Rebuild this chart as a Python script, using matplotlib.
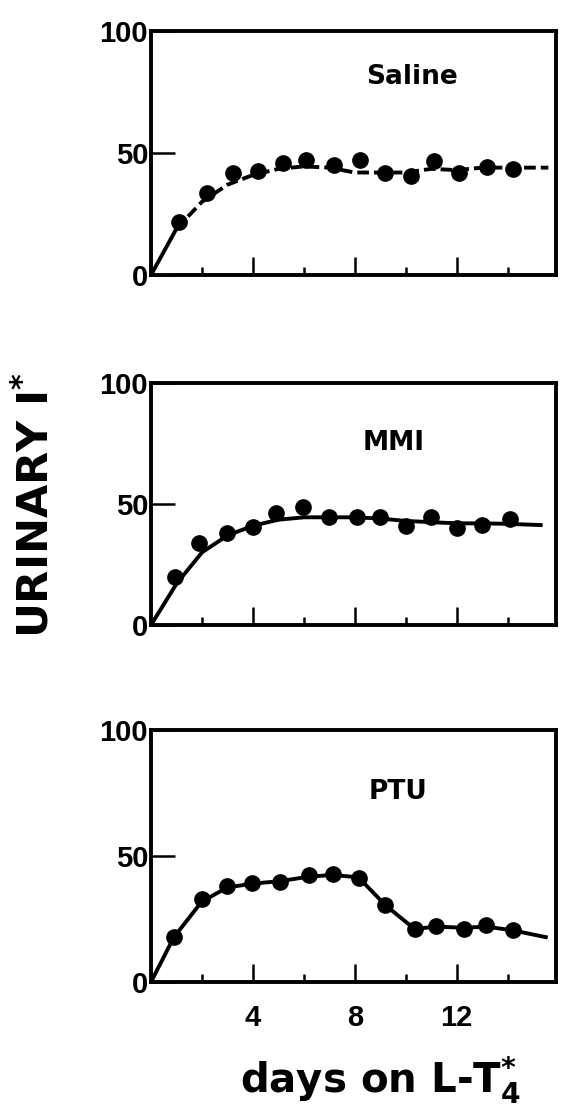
import matplotlib
matplotlib.use("Agg")
import matplotlib.pyplot as plt
from matplotlib.ticker import FixedLocator

plt.rcParams['font.family'] = ['Liberation Sans', 'DejaVu Sans']
plt.rcParams['font.weight'] = 'bold'
plt.rcParams['mathtext.fontset'] = 'custom'
plt.rcParams['mathtext.rm'] = 'DejaVu Sans:bold'
plt.rcParams['mathtext.bf'] = 'DejaVu Sans:bold'
plt.rcParams['mathtext.it'] = 'DejaVu Sans:bold'

# measured points (days on L-T4, urinary I*)
saline_days = [1.1, 2.2, 3.2, 4.2, 5.2, 6.1, 7.2, 8.2, 9.2, 10.2, 11.1, 12.1, 13.2, 14.2]
saline_vals = [21.8, 33.8, 41.6, 42.6, 45.9, 47.0, 45.0, 47.3, 41.8, 40.5, 46.6, 41.6, 44.3, 43.6]
saline_curve_x = [0, 1, 2, 3, 4, 5, 6, 7, 8, 9, 10, 11, 12, 13, 14, 15.6]
saline_curve_y = [0, 19, 30, 37, 41, 43.5, 44.5, 44, 42, 42, 42, 43.5, 43, 44, 44, 44]

mmi_days = [0.95, 1.9, 3.0, 4.0, 4.9, 5.95, 7.0, 8.1, 9.0, 10.0, 11.0, 12.0, 13.0, 14.1]
mmi_vals = [20.0, 34.0, 38.2, 40.6, 46.1, 48.9, 44.5, 44.5, 44.8, 41.0, 44.5, 40.2, 41.3, 43.7]
mmi_curve_x = [0, 1, 2, 3, 4, 5, 6, 7, 8, 9, 10, 11, 12, 13, 14, 15.3]
mmi_curve_y = [0, 17, 30, 37, 41, 43.5, 44.5, 44.5, 44.5, 44, 43, 42.5, 42, 42, 41.8, 41.3]

ptu_days = [0.9, 2.0, 3.0, 3.95, 5.05, 6.2, 7.15, 8.15, 9.2, 10.35, 11.2, 12.3, 13.15, 14.2]
ptu_vals = [17.8, 32.8, 38.2, 39.2, 39.7, 42.4, 43.0, 41.1, 30.5, 21.0, 22.3, 21.2, 22.5, 20.6]
ptu_curve_x = [0, 0.9, 2.0, 3.0, 3.95, 5.05, 6.2, 7.15, 8.15, 9.2, 10.35, 11.2, 12.3, 13.15, 14.2, 15.5]
ptu_curve_y = [0, 17.8, 32.0, 37.5, 39.0, 40.0, 41.8, 42.5, 41.5, 30.5, 21.0, 22.0, 21.5, 22.0, 20.5, 17.8]

panel_names = ["Saline", "MMI", "PTU"]
y_ticks = [0, 50, 100]
x_major = [4, 8, 12]
x_minor = [2, 6, 10, 14]

fig = plt.figure(figsize=(5.61, 11.1), dpi=100)

left, width = 151 / 561, 405 / 561
boxes = [(31, 275), (383, 625), (730, 982)]
label_pos = [(0.645, 0.81), (0.60, 0.752), (0.61, 0.754)]
panels = [
    (saline_days, saline_vals, saline_curve_x, saline_curve_y),
    (mmi_days, mmi_vals, mmi_curve_x, mmi_curve_y),
    (ptu_days, ptu_vals, ptu_curve_x, ptu_curve_y),
]

for i, ((top, bot), (dx, dy, cx, cy)) in enumerate(zip(boxes, panels)):
    ax = fig.add_axes([left, 1 - bot / 1110, width, (bot - top) / 1110])
    if i == 0:
        # solid start, dashed rest
        ax.plot(cx[:2], cy[:2], color='black', lw=2.8, solid_capstyle='butt')
        ax.plot(cx[1:], cy[1:], color='black', lw=2.8, dashes=(3, 1.3))
    else:
        ax.plot(cx, cy, color='black', lw=2.8, solid_joinstyle='round')
    ax.plot(dx, dy, 'o', color='black', ms=11, zorder=3)

    ax.set_xlim(0, 15.9)
    ax.set_ylim(0, 100)
    for s in ax.spines.values():
        s.set_linewidth(2.8)

    ax.yaxis.set_major_locator(FixedLocator(y_ticks))
    ax.set_yticklabels([str(v) for v in y_ticks])
    ax.tick_params(axis='y', direction='in', length=17, width=1.8, pad=2,
                   labelsize=21)
    ax.xaxis.set_major_locator(FixedLocator(x_major))
    ax.xaxis.set_minor_locator(FixedLocator(x_minor))
    ax.tick_params(axis='x', which='major', direction='in', length=13, width=1.8,
                   labelsize=21, pad=16)
    ax.tick_params(axis='x', which='minor', direction='in', length=6, width=1.8)
    if i < 2:
        ax.set_xticklabels([])
    else:
        ax.set_xticklabels([str(v) for v in x_major])
    for lab in ax.get_xticklabels() + ax.get_yticklabels():
        lab.set_fontweight('bold')

    ax.text(label_pos[i][0], label_pos[i][1], panel_names[i],
            transform=ax.transAxes, ha='center', va='center', fontsize=19,
            fontweight='bold', family='DejaVu Sans')

fig.text(36 / 561, 1 - 505 / 1110, r'URINARY I$^{*}$', rotation=90,
         ha='center', va='center', fontsize=31, fontweight='bold',
         family='DejaVu Sans')
fig.text(381 / 561, 1 - 1080 / 1110, r'days on L-T$_4^{*}$',
         ha='center', va='center', fontsize=29, fontweight='bold',
         family='DejaVu Sans')

fig.savefig("out.png", dpi=100)
